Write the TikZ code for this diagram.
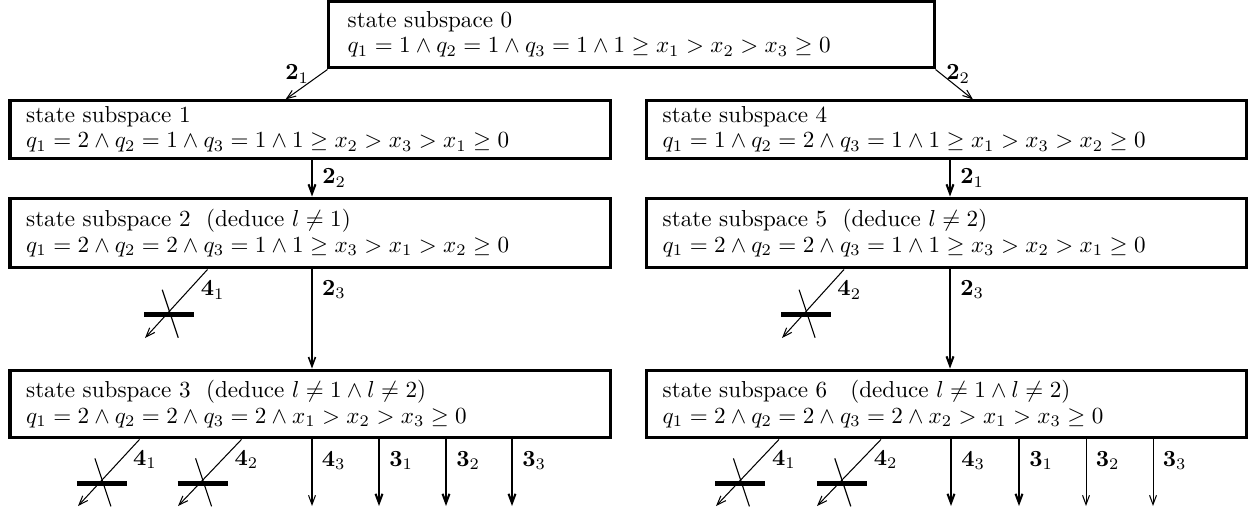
\documentclass[tikz,border=0pt]{standalone}
\usetikzlibrary{arrows.meta,calc}

\begin{document}
\begin{tikzpicture}[>={Straight Barb[length=4pt,width=3pt]},x=0.433pt,y=-0.433pt,
  box/.style={draw,line width=1.3pt,align=left,text width=245.8pt,inner xsep=7pt,inner ysep=0pt,font=\fontsize{10}{11}\selectfont},
  lbl/.style={inner sep=1pt},
  arrthin/.style={->,line width=0.45pt},
  arrthick/.style={->,line width=0.9pt},
  bar/.style={line width=2pt},
  slash/.style={line width=0.5pt}]
  \useasboundingbox (0,0) rectangle (1256,515);
  \node[box,minimum width=262pt,minimum height=29pt] (s0) at (631.5,34.5) {state subspace 0\\ $q_1=1\wedge q_2=1\wedge q_3=1\wedge 1\geq x_1>x_2>x_3\geq 0$};
  \node[box,minimum height=24.7pt] (s1) at (310,129.5) {state subspace 1\\ $q_1=2\wedge q_2=1\wedge q_3=1\wedge 1\geq x_2>x_3>x_1\geq 0$};
  \node[box,minimum height=24.7pt] (s4) at (946.5,129.5) {state subspace 4\\ $q_1=1\wedge q_2=2\wedge q_3=1\wedge 1\geq x_1>x_3>x_2\geq 0$};
  \node[box,minimum height=30.3pt] (s2) at (310,233) {state subspace 2\ \ (deduce $l\neq 1$)\\ $q_1=2\wedge q_2=2\wedge q_3=1\wedge 1\geq x_3>x_1>x_2\geq 0$};
  \node[box,minimum height=30.3pt] (s5) at (946.5,233) {state subspace 5\ \ (deduce $l\neq 2$)\\ $q_1=2\wedge q_2=2\wedge q_3=1\wedge 1\geq x_3>x_2>x_1\geq 0$};
  \node[box,minimum height=29.4pt] (s3) at (310,404) {state subspace 3\ \ (deduce $l\neq 1\wedge l\neq 2$)\\ $q_1=2\wedge q_2=2\wedge q_3=2\wedge x_1>x_2>x_3\geq 0$};
  \node[box,minimum height=29.4pt] (s6) at (946.5,404) {state subspace 6\quad (deduce $l\neq 1\wedge l\neq 2$)\\ $q_1=2\wedge q_2=2\wedge q_3=2\wedge x_2>x_1>x_3\geq 0$};

  \coordinate (cL) at (312,0); \coordinate (cR) at (950,0);
  \draw[arrthin] (s0.south west) -- ($(s1.north west)+(277,0)$) node[lbl,pos=.15,left=4pt]{$\mathbf{2}_1$};
  \draw[arrthin] (s0.south east) -- ($(s4.north west)+(328,0)$) node[lbl,pos=.15,right=1pt]{$\mathbf{2}_2$};
  \draw[arrthick] (cL |- s1.south) -- (cL |- s2.north) node[lbl,midway,right=3pt]{$\mathbf{2}_2$};
  \draw[arrthick] (cR |- s4.south) -- (cR |- s5.north) node[lbl,midway,right=3pt]{$\mathbf{2}_1$};
  \draw[->,line width=0.7pt] (cL |- s2.south) -- (cL |- s3.north) node[lbl,pos=.2,right=3pt]{$\mathbf{2}_3$};
  \draw[arrthick] (cR |- s5.south) -- (cR |- s6.north) node[lbl,pos=.2,right=3pt]{$\mathbf{2}_3$};

  \foreach \b/\dx/\ex/\ey/\d/\s in {s2/199/145/338/4/1,s5/199/782/338/4/2,s3/131/78/506/4/1,s3/233/178/506/4/2,s6/134/716/506/4/1,s6/236/817/506/4/2}
  {
    \coordinate (e\b\dx) at (\ex,\ey);
    \draw[arrthin] ($(\b.south west)+(\dx,0)$) -- (e\b\dx) coordinate[pos=.66] (k\b\dx) node[lbl,pos=.3,right=4pt]{$\mathbf{\d}_\s$};
    \draw[bar] ($(k\b\dx)+(-22,0)$) -- ($(k\b\dx)+(28,0)$);
    \draw[slash] ($(k\b\dx)+(-4,-25)$) -- ($(k\b\dx)+(12,23)$);
  }

  \foreach \x/\b/\d/\s/\w in {312/s3/4/3/arrthin,379/s3/3/1/arrthick,446/s3/3/2/arrthick,512/s3/3/3/arrthick,951/s6/4/3/arrthick,1019/s6/3/1/arrthick,1086/s6/3/2/arrthin,1153/s6/3/3/arrthin}
  {
    \coordinate (v\x) at (\x,506);
    \draw[\w] (v\x |- \b.south) -- (v\x) node[lbl,pos=.32,right=3pt]{$\mathbf{\d}_\s$};
  }
\end{tikzpicture}
\end{document}
